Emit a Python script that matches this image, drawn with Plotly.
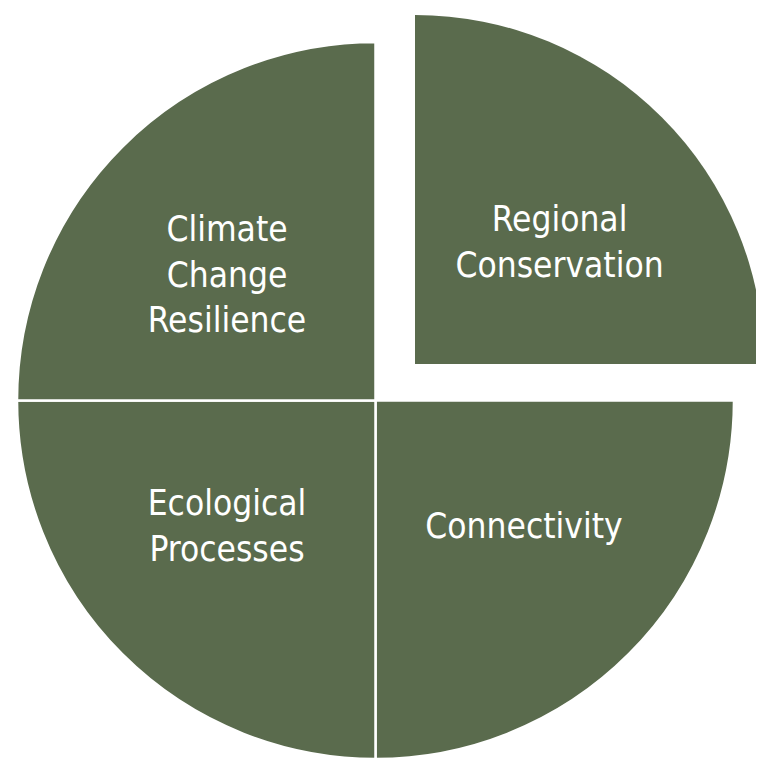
import plotly.graph_objects as go

# --- Data ---
labels = ["Regional Conservation", "Connectivity", "Ecological Processes", "Climate Change Resilience"]
label_text = ["\u00a0<br>Regional<br>Conservation",
              "Connectivity<br>\u00a0",
              "Ecological<br>Processes<br>\u00a0",
              "\u00a0<br>Climate<br>Change<br>Resilience"]
values = [25, 25, 25, 25]
pulled = [True, False, False, False]

# --- Theme ---
GREEN = "#5a6b4d"
CLEAR = "rgba(0,0,0,0)"
PAGE_MARGIN = 8          # default body margin of the html page
W, H = 764 - PAGE_MARGIN, 759 - PAGE_MARGIN
FONT = "DejaVu Sans Condensed, sans-serif"


def px_domain(cx, cy, r):
    """page-pixel centre/radius -> paper domain for a pie."""
    cx, cy = cx - PAGE_MARGIN, cy - PAGE_MARGIN
    return dict(x=[max(0, (cx - r) / W), min(1, (cx + r) / W)],
                y=[max(0, (H - cy - r) / H), min(1, (H - cy + r) / H)])


fig = go.Figure()

# main circle (pulled slice left empty)
fig.add_trace(go.Pie(
    labels=labels,
    values=values,
    text=[("" if p else t) for p, t in zip(pulled, label_text)],
    textinfo="text",
    textposition="inside",
    insidetextorientation="horizontal",
    sort=False,
    direction="clockwise",
    rotation=0,
    marker=dict(colors=[CLEAR if p else GREEN for p in pulled],
                line=dict(color="white", width=[0 if p else 2.5 for p in pulled])),
    textfont=dict(family=FONT, size=35, color="white"),
    domain=px_domain(375.5, 400.5, 358.5),
    hoverinfo="skip",
    showlegend=False,
))

# pulled-out slice
fig.add_trace(go.Pie(
    labels=labels,
    values=values,
    text=[(t if p else "") for p, t in zip(pulled, label_text)],
    textinfo="text",
    textposition="inside",
    insidetextorientation="horizontal",
    sort=False,
    direction="clockwise",
    rotation=0,
    marker=dict(colors=[GREEN if p else CLEAR for p in pulled],
                line=dict(color="white", width=0)),
    textfont=dict(family=FONT, size=35, color="white"),
    domain=px_domain(415, 364, 349),
    hoverinfo="skip",
    showlegend=False,
))

fig.update_layout(
    width=W,
    height=H,
    margin=dict(l=0, r=0, t=0, b=0),
    paper_bgcolor="white",
    plot_bgcolor="white",
    showlegend=False,
)

fig.write_html("out.html")
